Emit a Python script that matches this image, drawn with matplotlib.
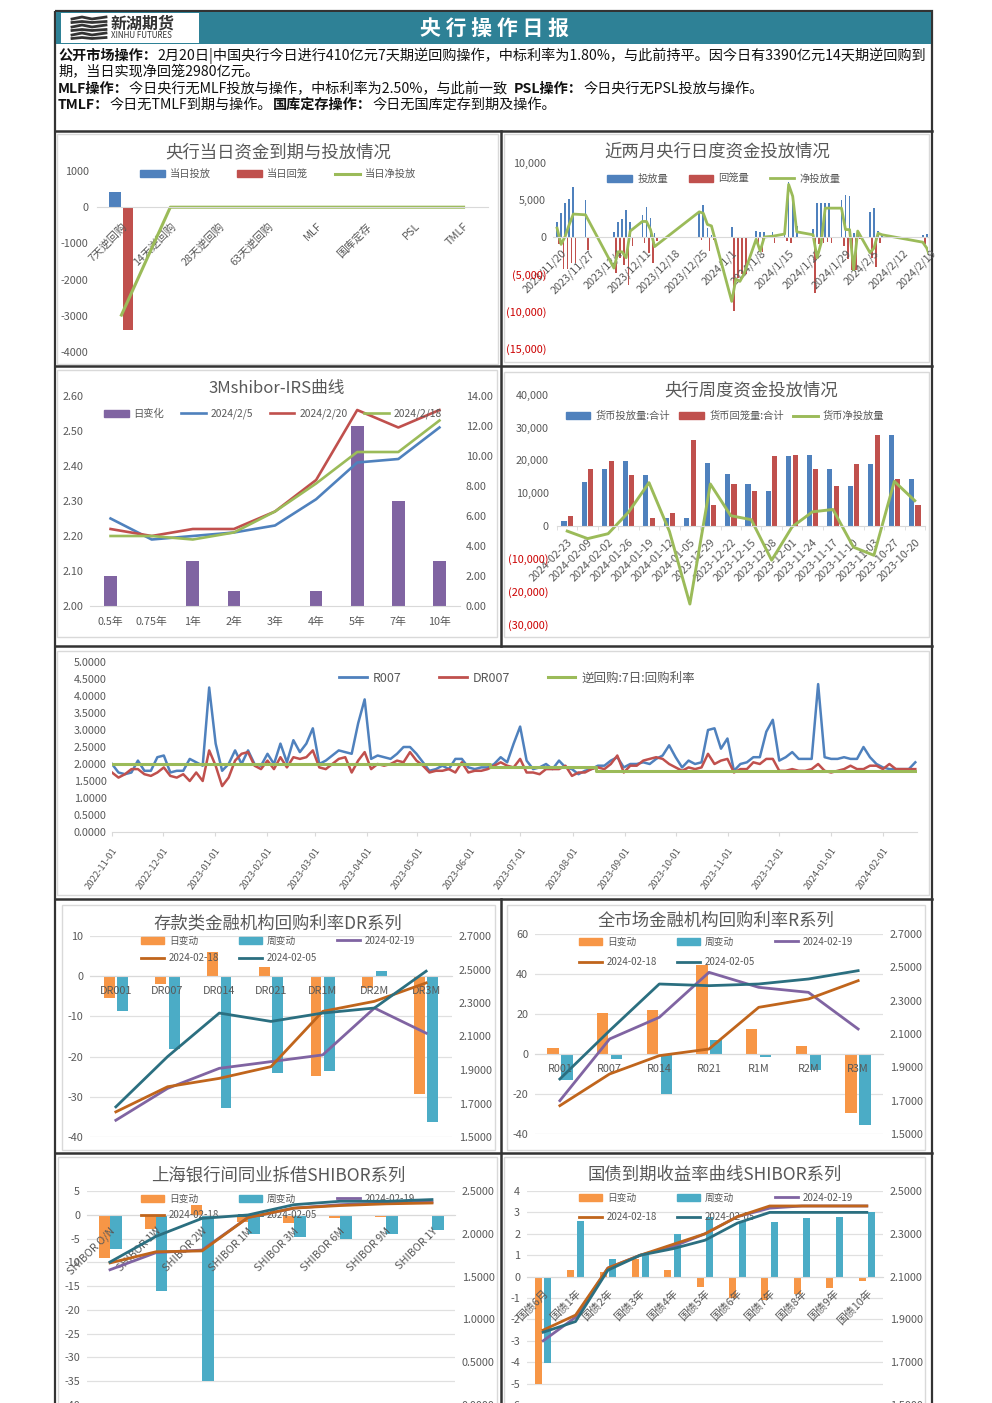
import matplotlib
matplotlib.use("Agg")
import matplotlib.pyplot as plt
import matplotlib.dates as mdates
import matplotlib.transforms as mtrans
from matplotlib.patches import Rectangle
from matplotlib.lines import Line2D
from matplotlib.patches import Patch
import numpy as np
import pandas as pd

plt.rcParams['font.family'] = ['Noto Sans CJK SC', 'DejaVu Sans']
plt.rcParams['axes.unicode_minus'] = False
W, H = 992, 1403
GREY = "#595959"
BLUE, RED, GREEN = "#4f81bd", "#c0504d", "#9bbb59"
PURPLE, ORANGE, TEAL = "#8064a2", "#f79646", "#4bacc6"
BROWN, DTEAL = "#c0651c", "#2b6f80"

# ---- chart 1
ops_cats = ["7天逆回购", "14天逆回购", "28天逆回购", "63天逆回购", "MLF", "国库定存", "PSL", "TMLF"]
ops_in = [410, 0, 0, 0, 0, 0, 0, 0]
ops_out = [-3390, 0, 0, 0, 0, 0, 0, 0]
ops_net = [-2980, 0, 0, 0, 0, 0, 0, 0]
ops_ticks = [1000, 0, -1000, -2000, -3000, -4000]

# ---- chart 2
daily_dates = ["2023-11-20", "2023-11-21", "2023-11-22", "2023-11-23", "2023-11-24", "2023-11-27",
               "2023-12-04", "2023-12-05", "2023-12-06", "2023-12-07", "2023-12-08",
               "2023-12-11", "2023-12-12", "2023-12-13", "2023-12-14",
               "2023-12-25", "2023-12-26", "2023-12-27", "2023-12-28",
               "2024-01-02", "2024-01-03", "2024-01-04", "2024-01-05",
               "2024-01-08", "2024-01-09", "2024-01-10", "2024-01-12",
               "2024-01-15", "2024-01-16", "2024-01-17", "2024-01-18",
               "2024-01-22", "2024-01-23", "2024-01-24", "2024-01-25", "2024-01-26",
               "2024-01-29", "2024-01-30", "2024-01-31", "2024-02-01", "2024-02-02",
               "2024-02-05", "2024-02-06", "2024-02-07", "2024-02-08",
               "2024-02-18", "2024-02-19", "2024-02-20"]
daily_in = [2000, 3200, 4600, 5200, 6700, 5000,
            700, 2000, 2400, 3600, 2000,
            3000, 4100, 2600, 500,
            3200, 4300, 1200, 300,
            1300, 0, 0, 0,
            800, 700, 700, 700,
            600, 7500, 5500, 1500,
            1100, 4600, 4600, 4600, 4600,
            5000, 5700, 5500, 500, 600,
            3400, 3900, 800, 300,
            300, 400, 410]
daily_out = [-1000, -4300, -4300, -3500, -3500, -1800,
             -4800, -2900, -3800, -6500, -1200,
             -800, -2100, -3500, -600,
             -400, -100, -1900, -400,
             -10000, -5500, -5000, -5000,
             -1000, -2000, -100, -800,
             -600, -800, -100, -100,
             -7600, -1000, -800, -700, -800,
             -1200, -3000, -4500, -4500, -300,
             -2800, -4000, -800, -100,
             -1000, -300, -3390]
daily_net = [1200, -1000, 100, 1700, 3100, 3000,
             -4200, -2000, -2000, -2800, 800,
             2100, 2100, 1000, -1300,
             3400, 3200, 1700, 1500,
             -8700, -5700, -6000, -5000,
             -300, -1900, 0, 100,
             400, 7100, 5500, 700,
             300, -2800, -800, 3900, 3900,
             3900, 1000, 1000, -4400, 800,
             -2100, -1500, 500, 300,
             -700, -1500, -2980]
daily_ticks = [10000, 5000, 0, -5000, -10000, -15000]

# ---- chart 3
irs_cats = ["0.5年", "0.75年", "1年", "2年", "3年", "4年", "5年", "7年", "10年"]
irs_change = [2, 0, 3, 1, 0, 1, 12, 7, 3]
irs_0205 = [2.25, 2.19, 2.20, 2.21, 2.23, 2.305, 2.41, 2.42, 2.51]
irs_0220 = [2.22, 2.20, 2.22, 2.22, 2.27, 2.36, 2.56, 2.51, 2.56]
irs_0218 = [2.20, 2.20, 2.19, 2.21, 2.27, 2.35, 2.44, 2.44, 2.53]

# ---- chart 4
week_cats = ["2024-02-23", "2024-02-09", "2024-02-02", "2024-01-26", "2024-01-19", "2024-01-12",
             "2024-01-05", "2023-12-29", "2023-12-22", "2023-12-15", "2023-12-08", "2023-12-01",
             "2023-11-24", "2023-11-17", "2023-11-10", "2023-11-03", "2023-10-27", "2023-10-20"]
week_in = [1400, 13400, 17300, 19700, 15500, 2300, 2300, 19300, 15800, 12700, 10800, 21300,
           21600, 17300, 12300, 18800, 27800, 14200]
week_out = [3000, 17300, 19700, 15500, 2300, 4000, 26200, 6500, 12700, 10800, 21300, 21600,
            17300, 12300, 18800, 27800, 14200, 6500]
week_net = [-1600, -3900, -2400, 4200, 13200, -1700, -23900, 12800, 3100, 1900, -10500, -300,
            4300, 5000, -6500, -9000, 13600, 7700]
week_ticks = [40000, 30000, 20000, 10000, 0, -10000, -20000, -30000]

# ---- chart 5
r007 = [2.0, 1.75, 1.7, 1.75, 2.1, 1.8, 1.8, 2.2, 2.25, 1.75, 1.8, 1.8, 2.15, 2.05, 1.95, 4.25,
        2.6, 1.8, 2.0, 2.4, 2.0, 2.4, 2.0, 1.95, 2.3, 2.0, 2.6, 2.05, 2.7, 2.35, 2.6, 3.05,
        2.0, 2.1, 2.25, 2.4, 2.35, 2.3, 3.2, 3.9, 2.15, 2.25, 2.2, 2.15, 2.3, 2.5, 2.5, 2.3,
        2.05, 1.8, 1.85, 1.95, 1.85, 2.15, 2.15, 1.9, 1.85, 1.9, 1.9, 2.0, 2.2, 2.05, 2.6, 3.1,
        2.1, 1.85, 1.9, 2.0, 1.85, 2.1, 1.9, 1.85, 1.7, 1.8, 1.85, 1.95, 1.95, 2.1, 2.2, 1.9,
        2.0, 2.0, 2.05, 2.0, 2.15, 2.25, 2.55, 2.2, 1.9, 2.1, 2.0, 2.05, 3.0, 3.05, 2.45, 2.75,
        1.8, 2.0, 2.05, 2.2, 2.2, 2.95, 3.3, 2.1, 2.2, 2.35, 2.15, 2.15, 2.15, 4.35, 2.2, 2.15,
        2.15, 2.2, 2.15, 2.15, 2.5, 2.2, 2.0, 1.9, 1.85, 1.85, 1.85, 1.85, 2.05]
dr007 = [1.75, 1.6, 1.7, 1.85, 1.85, 1.7, 1.65, 1.75, 1.9, 1.65, 1.6, 1.7, 1.5, 1.75, 1.5, 2.4,
         1.95, 1.35, 1.6, 2.1, 2.3, 2.35, 1.95, 1.85, 2.1, 1.85, 2.2, 1.9, 2.2, 2.15, 2.2, 2.4,
         1.9, 1.85, 2.0, 2.15, 2.2, 1.75, 2.1, 2.35, 1.85, 2.0, 1.95, 2.0, 2.1, 2.05, 2.35, 2.1,
         1.95, 1.75, 1.8, 1.8, 1.85, 1.75, 2.05, 1.75, 1.8, 1.8, 1.85, 1.95, 2.05, 1.95, 1.9, 2.15,
         1.75, 1.75, 1.7, 1.85, 1.85, 1.85, 1.95, 1.65, 1.75, 1.75, 1.85, 1.9, 1.85, 2.0, 2.25, 1.75,
         1.95, 1.95, 2.1, 2.15, 2.2, 2.15, 2.0, 1.9, 1.8, 1.9, 1.85, 1.9, 2.3, 2.0, 2.1, 2.15,
         1.75, 1.85, 1.85, 2.05, 2.0, 2.15, 2.15, 1.8, 1.8, 1.85, 1.8, 1.8, 1.85, 2.0, 1.8, 1.75,
         1.8, 1.85, 1.95, 1.85, 1.85, 1.95, 1.95, 1.85, 2.0, 1.85, 1.85, 1.85, 1.85]
policy_dates = ["2022-11-01", "2023-06-13", "2023-08-15", "2024-02-20"]
policy_rate = [2.0, 1.9, 1.8, 1.8]
month_ticks = ["2022-11-01", "2022-12-01", "2023-01-01", "2023-02-01", "2023-03-01", "2023-04-01",
               "2023-05-01", "2023-06-01", "2023-07-01", "2023-08-01", "2023-09-01", "2023-10-01",
               "2023-11-01", "2023-12-01", "2024-01-01", "2024-02-01"]

# ---- chart 6
dr_cats = ["DR001", "DR007", "DR014", "DR021", "DR1M", "DR2M", "DR3M"]
dr_day = [-5.5, -2, 6, 2.3, -24.8, -3, -29.3]
dr_week = [-8.7, -18, -32.8, -24, -23.7, 1.2, -36.2]
dr_0219 = [1.60, 1.79, 1.91, 1.95, 1.99, 2.27, 2.12]
dr_0218 = [1.65, 1.80, 1.85, 1.92, 2.25, 2.31, 2.42]
dr_0205 = [1.68, 1.98, 2.24, 2.19, 2.24, 2.27, 2.49]

# ---- chart 7
r_cats = ["R001", "R007", "R014", "R021", "R1M", "R2M", "R3M"]
r_day = [3, 20.5, 22, 44.5, 12.5, 4.2, -29.5]
r_week = [-13, -2.5, -20, 7, -1.5, -8, -35.3]
r_0219 = [1.70, 2.07, 2.20, 2.47, 2.38, 2.35, 2.13]
r_0218 = [1.67, 1.86, 1.97, 2.01, 2.26, 2.31, 2.42]
r_0205 = [1.83, 2.12, 2.40, 2.39, 2.40, 2.43, 2.48]

# ---- chart 8
sh_cats = ["SHIBOR O/N", "SHIBOR 1W", "SHIBOR 2W", "SHIBOR 1M", "SHIBOR 3M", "SHIBOR 6M", "SHIBOR 9M", "SHIBOR 1Y"]
sh_day = [-9, -3, 2, -1.5, -1.7, -0.7, -0.4, 0]
sh_week = [-7.3, -16, -35, -4, -4.6, -5, -4, -3.2]
sh_0219 = [1.58, 1.78, 1.81, 2.19, 2.30, 2.34, 2.36, 2.37]
sh_0218 = [1.66, 1.79, 1.80, 2.19, 2.30, 2.33, 2.35, 2.36]
sh_0205 = [1.67, 1.97, 2.18, 2.22, 2.34, 2.38, 2.38, 2.40]

# ---- chart 9
gb_cats = ["国债6月", "国债1年", "国债2年", "国债3年", "国债4年", "国债5年", "国债6年", "国债7年", "国债8年", "国债9年", "国债10年"]
gb_day = [-5, 0.3, 0.2, 0.8, 0.3, -0.5, -1, -1.1, -0.8, -0.55, -0.2]
gb_week = [-4.05, 2.6, 0.8, 1, 2, 2.8, 2.6, 2.55, 2.75, 2.8, 3]
gb_0219 = [1.80, 1.91, 2.14, 2.20, 2.24, 2.30, 2.38, 2.42, 2.43, 2.43, 2.43]
gb_0218 = [1.85, 1.92, 2.14, 2.20, 2.25, 2.30, 2.38, 2.43, 2.43, 2.43, 2.43]
gb_0205 = [1.84, 1.89, 2.13, 2.20, 2.23, 2.27, 2.35, 2.40, 2.40, 2.40, 2.40]

fig = plt.figure(figsize=(W / 100, H / 100), dpi=100, facecolor="white")

# page layer in pixel coordinates
bg = fig.add_axes([0, 0, 1, 1], zorder=-1)
bg.set_xlim(0, W)
bg.set_ylim(H, 0)
bg.axis("off")


def box(x0, y0, x1, y1, fc="none", ec="#333333", lw=1.4):
    bg.add_patch(Rectangle((x0, y0), x1 - x0, y1 - y0, fc=fc, ec=ec, lw=lw))


box(55, 11, 932, 1420, lw=1.6)
box(56, 12, 931, 44, fc="#2e8196", ec="none")
box(61, 13, 199, 43, fc="white", ec="none")
for yy in [131, 366, 646, 899, 1153]:
    bg.plot([55, 932], [yy, yy], color="#333333", lw=1.8)
bg.plot([501, 501], [131, 646], color="#333333", lw=1.8)
bg.plot([501, 501], [899, 1420], color="#333333", lw=1.8)
for x0, y0, x1, y1 in [(57, 134, 498, 364), (504, 134, 929, 362), (57, 370, 497, 637),
                       (504, 372, 929, 637), (57, 651, 929, 895), (62, 905, 495, 1150),
                       (507, 905, 925, 1150), (58, 1157, 497, 1420), (504, 1157, 925, 1420)]:
    box(x0, y0, x1, y1, ec="#d9d9d9", lw=1.0)

# logo
for i, yy in enumerate([18, 22, 26, 30, 34, 38]):
    xs = np.array([72, 82, 92, 106])
    bg.plot(xs, yy + np.array([1, -1, 1, -1]) * (0.5 if i % 2 else 1), color="#333333", lw=2.0)
bg.text(111, 24, "新湖期货", fontsize=11.5, fontweight="bold", color="#333333", va="center")
bg.text(111, 36, "XINHU FUTURES", fontsize=5.8, color="#333333", va="center")
bg.text(495, 28, "央 行 操 作 日 报", fontsize=15, fontweight="bold", color="white", ha="center", va="center")

# notes, bold runs measured so the next run follows on
lines = [
    (56, [("公开市场操作：", True), ("2月20日|中国央行今日进行410亿元7天期逆回购操作，中标利率为1.80%，与此前持平。因今日有3390亿元14天期逆回购到", False)]),
    (72, [("期，当日实现净回笼2980亿元。", False)]),
    (89, [("MLF操作：", True), ("今日央行无MLF投放与操作，中标利率为2.50%，与此前一致  ", False),
          ("PSL操作：", True), ("今日央行无PSL投放与操作。", False)]),
    (105, [("TMLF：", True), ("今日无TMLF到期与操作。", False), ("国库定存操作：", True), ("今日无国库定存到期及操作。", False)]),
]
rend = fig.canvas.get_renderer()
for yy, runs in lines:
    xx = 58
    for s, is_bold in runs:
        t = bg.text(xx, yy, s, fontsize=10.2, color="#111111", va="center",
                    fontweight="bold" if is_bold else "normal")
        xx = t.get_window_extent(rend).x1 + 0.5


def pax(x0, x1, y0, y1):
    return fig.add_axes([x0 / W, 1 - y1 / H, (x1 - x0) / W, (y1 - y0) / H], facecolor="none")


def style(ax, fs=7.8):
    for s in ax.spines.values():
        s.set_visible(False)
    ax.tick_params(axis="both", length=0, labelsize=fs, colors=GREY)


def base_zero(ax):
    ax.spines["bottom"].set_visible(True)
    ax.spines["bottom"].set_position(("data", 0))
    ax.spines["bottom"].set_color("#d9d9d9")


def title(x, y, s, fs=12.5):
    bg.text(x, y, s, fontsize=fs, color=GREY, ha="center", va="center")


def legend(ax, handles, labels, x, y, ncol, fs=7.2, cs=1.6, hl=2.4, ls=0.55):
    leg = ax.legend(handles, labels, ncol=ncol, loc="center", bbox_to_anchor=(x / W, 1 - y / H),
                    bbox_transform=fig.transFigure, frameon=False, fontsize=fs, labelcolor=GREY,
                    columnspacing=cs, handlelength=hl, handletextpad=0.5, labelspacing=ls,
                    borderpad=0, borderaxespad=0)
    leg.set_zorder(3)


def paren(v):
    return f"({abs(v):,})" if v < 0 else f"{v:,}"


def red_negatives(ax, ticks):
    ax.set_yticks(ticks)
    ax.set_yticklabels([paren(v) for v in ticks])
    for lab, v in zip(ax.get_yticklabels(), ticks):
        lab.set_color("#cc0000" if v < 0 else GREY)


# chart 1
ax = pax(97, 488, 171, 352)
style(ax)
base_zero(ax)
x = np.arange(len(ops_cats))
ax.bar(x - 0.13, ops_in, 0.23, color=BLUE)
ax.bar(x + 0.13, ops_out, 0.21, color=RED)
ax.plot(x, ops_net, color=GREEN, lw=2.2)
ax.set_xlim(-0.5, 7.5)
ax.set_ylim(-4000, 1000)
ax.set_yticks(ops_ticks)
ax.tick_params(axis="y", pad=6)
ax.set_xticks(x)
ax.set_xticklabels(ops_cats, rotation=45, ha="right", rotation_mode="anchor")
ax.tick_params(axis="x", pad=10)
title(278, 152, "央行当日资金到期与投放情况")
legend(ax, [Patch(color=BLUE), Patch(color=RED), Line2D([], [], color=GREEN, lw=2.2)],
       ["当日投放", "当日回笼", "当日净投放"], 278, 174, 3, fs=7.4, cs=2.6)

# chart 2
ax = pax(553, 928, 163, 348)
style(ax)
base_zero(ax)
d = mdates.date2num(pd.to_datetime(daily_dates))
ax.bar(d, daily_in, 0.42, color=BLUE)
ax.bar(d + 0.55, daily_out, 0.42, color=RED)
ax.plot(d, daily_net, color=GREEN, lw=2.0)
tk = pd.date_range("2023-11-20", periods=14, freq="7D")
ax.set_xticks(mdates.date2num(tk))
ax.set_xticklabels([f"{t.year}/{t.month}/{t.day}" for t in tk], rotation=45, ha="right", rotation_mode="anchor")
ax.tick_params(axis="x", pad=8)
shift = mtrans.ScaledTranslation(4 / 100, 0, fig.dpi_scale_trans)
for lab in ax.get_xticklabels():
    lab.set_transform(lab.get_transform() + shift)
ax.set_xlim(mdates.date2num(tk[0]) - 1, mdates.date2num(tk[-1]) + 0.3)
ax.set_ylim(-15000, 10000)
red_negatives(ax, daily_ticks)
ax.tick_params(axis="y", pad=5)
title(717, 151, "近两月央行日度资金投放情况")
legend(ax, [Patch(color=BLUE), Patch(color=RED), Line2D([], [], color=GREEN, lw=2.0)],
       ["投放量", "回笼量", "净投放量"], 724, 179, 3, fs=7.4, cs=2.0)

# chart 3
ax = pax(90, 460, 396, 606)
style(ax)
ax.spines["bottom"].set_visible(True)
ax.spines["bottom"].set_color("#d9d9d9")
ax2 = ax.twinx()
style(ax2)
x = np.arange(len(irs_cats))
ax2.bar(x, irs_change, 0.31, color=PURPLE)
ax.set_zorder(ax2.get_zorder() + 1)
ax.plot(x, irs_0205, color=BLUE, lw=1.9)
ax.plot(x, irs_0220, color=RED, lw=1.9)
ax.plot(x, irs_0218, color=GREEN, lw=1.9)
ax.set_xlim(-0.5, 8.5)
ax.set_xticks(x)
ax.set_xticklabels(irs_cats)
ax.tick_params(axis="x", pad=8)
ax.set_ylim(2.0, 2.6)
ax.set_yticks(np.arange(2.0, 2.61, 0.1))
ax.yaxis.set_major_formatter("{x:.2f}")
ax2.set_ylim(0, 14)
ax2.set_yticks(range(0, 15, 2))
ax2.yaxis.set_major_formatter("{x:.2f}")
ax.tick_params(axis="y", pad=5)
ax2.tick_params(axis="y", pad=4)
title(277, 388, "3Mshibor-IRS曲线", fs=12)
legend(ax, [Patch(color=PURPLE), Line2D([], [], color=BLUE, lw=1.9), Line2D([], [], color=RED, lw=1.9),
            Line2D([], [], color=GREEN, lw=1.9)],
       ["日变化", "2024/2/5", "2024/2/20", "2024/2/18"], 273, 414, 4, fs=7.4, cs=1.6)

# chart 4
ax = pax(557, 925, 395, 624)
style(ax)
base_zero(ax)
x = np.arange(len(week_cats))
ax.bar(x - 0.155, week_in, 0.25, color=BLUE)
ax.bar(x + 0.155, week_out, 0.25, color=RED)
ax.plot(x, week_net, color=GREEN, lw=2.1)
ax.set_xlim(-0.5, 17.5)
ax.set_ylim(-30000, 40000)
ax.set_xticks(x)
ax.set_xticklabels(week_cats, rotation=45, ha="right", rotation_mode="anchor")
ax.tick_params(axis="x", pad=8)
ax.set_xticks(np.arange(-0.5, 18, 1), minor=True)
ax.tick_params(axis="x", which="minor", length=3, color="#d9d9d9")
red_negatives(ax, week_ticks)
ax.tick_params(axis="y", pad=6)
title(751, 390, "央行周度资金投放情况")
legend(ax, [Patch(color=BLUE), Patch(color=RED), Line2D([], [], color=GREEN, lw=2.1)],
       ["货币投放量:合计", "货币回笼量:合计", "货币净投放量"], 725, 416, 3, fs=7.4, cs=0.9)

# chart 5
ax = pax(112, 917, 662, 832)
style(ax)
ax.spines["bottom"].set_visible(True)
ax.spines["bottom"].set_color("#d9d9d9")
dd = mdates.date2num(pd.date_range("2022-11-01", "2024-02-20", periods=len(r007)))
pd_x = mdates.date2num(pd.to_datetime(policy_dates))
ax.plot(dd, r007, color=BLUE, lw=1.8)
ax.plot(dd, dr007, color=RED, lw=1.8)
ax.plot(pd_x, policy_rate, color=GREEN, lw=2.2, drawstyle="steps-post")
mt = pd.to_datetime(month_ticks)
ax.set_xticks(mdates.date2num(mt))
ax.set_xticklabels(month_ticks, rotation=55, ha="right", rotation_mode="anchor", fontsize=6.8)
ax.tick_params(axis="x", length=3, color="#d9d9d9", pad=7)
ax.set_xlim(dd[0], dd[-1] + 1)
ax.set_ylim(0, 5)
ax.set_yticks(np.arange(0, 5.01, 0.5))
ax.yaxis.set_major_formatter("{x:.4f}")
ax.tick_params(axis="y", pad=4)
legend(ax, [Line2D([], [], color=BLUE, lw=2), Line2D([], [], color=RED, lw=2), Line2D([], [], color=GREEN, lw=2.2)],
       ["R007", "DR007", "逆回购:7日:回购利率"], 517, 678, 3, fs=9, cs=3.0, hl=2.2)


def combo(bx, cats, day, week, l19, l18, l05, ylim, yticks, rlim, rticks, ttl, tpos, lpos, rot=0, bw=0.22, off=0.15, fs_leg=7.0, cs=2.0, lw=2.0, ls=0.9):
    a = pax(*bx)
    style(a)
    a.set_axisbelow(True)
    a.xaxis.set_zorder(5)
    base_zero(a)
    a.yaxis.grid(True, color="#e0e0e0", lw=0.9)
    xp = np.arange(len(cats))
    a.bar(xp - off, day, bw, color=ORANGE, zorder=2)
    a.bar(xp + off, week, bw, color=TEAL, zorder=2)
    a.set_xlim(-0.5, len(cats) - 0.5)
    a.set_ylim(*ylim)
    a.set_yticks(yticks)
    a.tick_params(axis="y", pad=5)
    a.set_xticks(xp)
    if rot:
        a.set_xticklabels(cats, rotation=rot, ha="right", rotation_mode="anchor")
        a.tick_params(axis="x", pad=8)
    else:
        a.set_xticklabels(cats)
        a.tick_params(axis="x", pad=7)
    b = a.twinx()
    style(b)
    b.plot(xp, l19, color=PURPLE, lw=lw)
    b.plot(xp, l18, color=BROWN, lw=lw)
    b.plot(xp, l05, color=DTEAL, lw=lw)
    b.set_ylim(*rlim)
    b.set_yticks(rticks)
    b.yaxis.set_major_formatter("{x:.4f}")
    b.tick_params(axis="y", pad=5)
    title(tpos[0], tpos[1], ttl)
    legend(a, [Patch(color=ORANGE), Line2D([], [], color=BROWN, lw=lw), Patch(color=TEAL),
               Line2D([], [], color=DTEAL, lw=lw), Line2D([], [], color=PURPLE, lw=lw)],
           ["日变动", "2024-02-18", "周变动", "2024-02-05", "2024-02-19"], lpos[0], lpos[1], 3, fs=fs_leg, cs=cs, ls=ls)


right_ticks = [1.5, 1.7, 1.9, 2.1, 2.3, 2.5, 2.7]
combo((90, 452, 936, 1137), dr_cats, dr_day, dr_week, dr_0219, dr_0218, dr_0205,
      (-40, 10), range(-40, 11, 10), (1.5, 2.7), right_ticks,
      "存款类金融机构回购利率DR系列", (278, 923), (278, 949.5), off=0.13, bw=0.21, ls=0.75)
combo((535, 883, 934, 1134), r_cats, r_day, r_week, r_0219, r_0218, r_0205,
      (-40, 60), range(-40, 61, 20), (1.5, 2.7), right_ticks,
      "全市场金融机构回购利率R系列", (716, 921), (716, 952), off=0.14, bw=0.23, ls=1.1)
combo((87, 455, 1191, 1405), sh_cats, sh_day, sh_week, sh_0219, sh_0218, sh_0205,
      (-40, 5), range(-40, 6, 5), (0, 2.5), [0, 0.5, 1.0, 1.5, 2.0, 2.5],
      "上海银行间同业拆借SHIBOR系列", (278, 1176), (278, 1207), rot=45, off=0.13, bw=0.24, ls=0.7)
combo((527, 883, 1191, 1405), gb_cats, gb_day, gb_week, gb_0219, gb_0218, gb_0205,
      (-6, 4), range(-6, 5), (1.5, 2.5), [1.5, 1.7, 1.9, 2.1, 2.3, 2.5],
      "国债到期收益率曲线SHIBOR系列", (715, 1175), (716, 1207.5), rot=45, off=0.147, bw=0.215, ls=1.0)

fig.savefig("out.png", dpi=100, facecolor="white")
